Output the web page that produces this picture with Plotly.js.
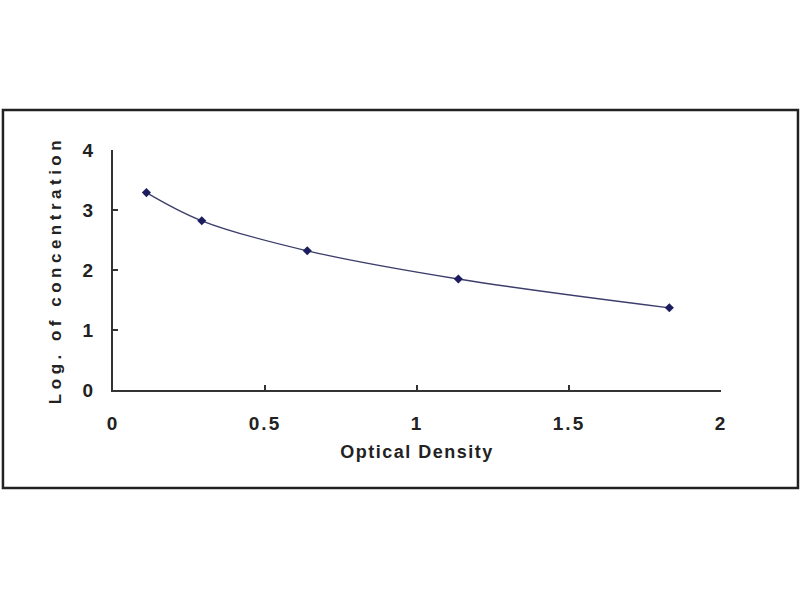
<!DOCTYPE html>
<html>
<head>
<meta charset="utf-8">
<script src="https://cdn.plot.ly/plotly-3.0.1.min.js"></script>
<style>
html,body{margin:0;padding:0;background:#fff;}
#chart{width:800px;height:600px;}
.xtitle{letter-spacing:1.5px;}
.ytitle{letter-spacing:4.5px;}
.xtick text{letter-spacing:2px;}
</style>
</head>
<body>
<div id="chart"></div>
<script>
var opticalDensity = [0.11, 0.292, 0.639, 1.136, 1.83];
var logConcentration = [3.29, 2.82, 2.32, 1.85, 1.37];
var xTickValues = [0, 0.5, 1, 1.5, 2];
var xTickLabels = ['0', '0.5', '1', '1.5', '2'];
var yTickValues = [0, 1, 2, 3, 4];
var yTickLabels = ['0', '1', '2', '3', '4'];

var font = 'Liberation Sans, Arial, sans-serif';

var curve = {
  x: opticalDensity,
  y: logConcentration,
  type: 'scatter',
  mode: 'lines+markers',
  line: {shape: 'spline', smoothing: 1, color: '#3b3d6b', width: 1.3},
  marker: {color: '#1c1c5e', size: 7, symbol: 'diamond'},
  hoverinfo: 'none'
};

var layout = {
  width: 800,
  height: 600,
  paper_bgcolor: '#ffffff',
  plot_bgcolor: '#ffffff',
  showlegend: false,
  margin: {l: 113, r: 79, t: 150, b: 210, pad: 0},
  font: {family: font, color: '#222', size: 17},
  xaxis: {
    range: [0, 2],
    tickvals: xTickValues,
    ticktext: xTickLabels,
    showgrid: false,
    zeroline: false,
    showline: true,
    linecolor: '#333',
    linewidth: 2,
    ticks: 'inside',
    ticklen: 5,
    tickwidth: 1.5,
    tickcolor: '#333',
    ticklabelstandoff: 15,
    tickfont: {family: font, size: 19, color: '#222', weight: 'bold'},
    title: {text: '<b>Optical Density</b>', font: {family: font, size: 18, color: '#222'}, standoff: 13},
    fixedrange: true
  },
  yaxis: {
    range: [0, 4],
    tickvals: yTickValues,
    ticktext: yTickLabels,
    showgrid: false,
    zeroline: false,
    showline: true,
    linecolor: '#333',
    linewidth: 2,
    ticks: 'inside',
    ticklen: 5,
    tickwidth: 1.5,
    tickcolor: '#333',
    ticklabelstandoff: 14,
    tickfont: {family: font, size: 19, color: '#222', weight: 'bold'},
    title: {text: '<b>Log. of concentration</b>', font: {family: font, size: 17, color: '#222'}, standoff: 17},
    fixedrange: true
  },
  shapes: [{
    type: 'rect',
    xref: 'paper', yref: 'paper',
    x0: -0.181, x1: 1.1266, y0: -0.408, y1: 1.1667,
    line: {color: '#222', width: 2.5},
    fillcolor: 'rgba(0,0,0,0)',
    layer: 'below'
  }]
};

Plotly.newPlot('chart', [curve], layout, {staticPlot: true, displayModeBar: false});
</script>
</body>
</html>
